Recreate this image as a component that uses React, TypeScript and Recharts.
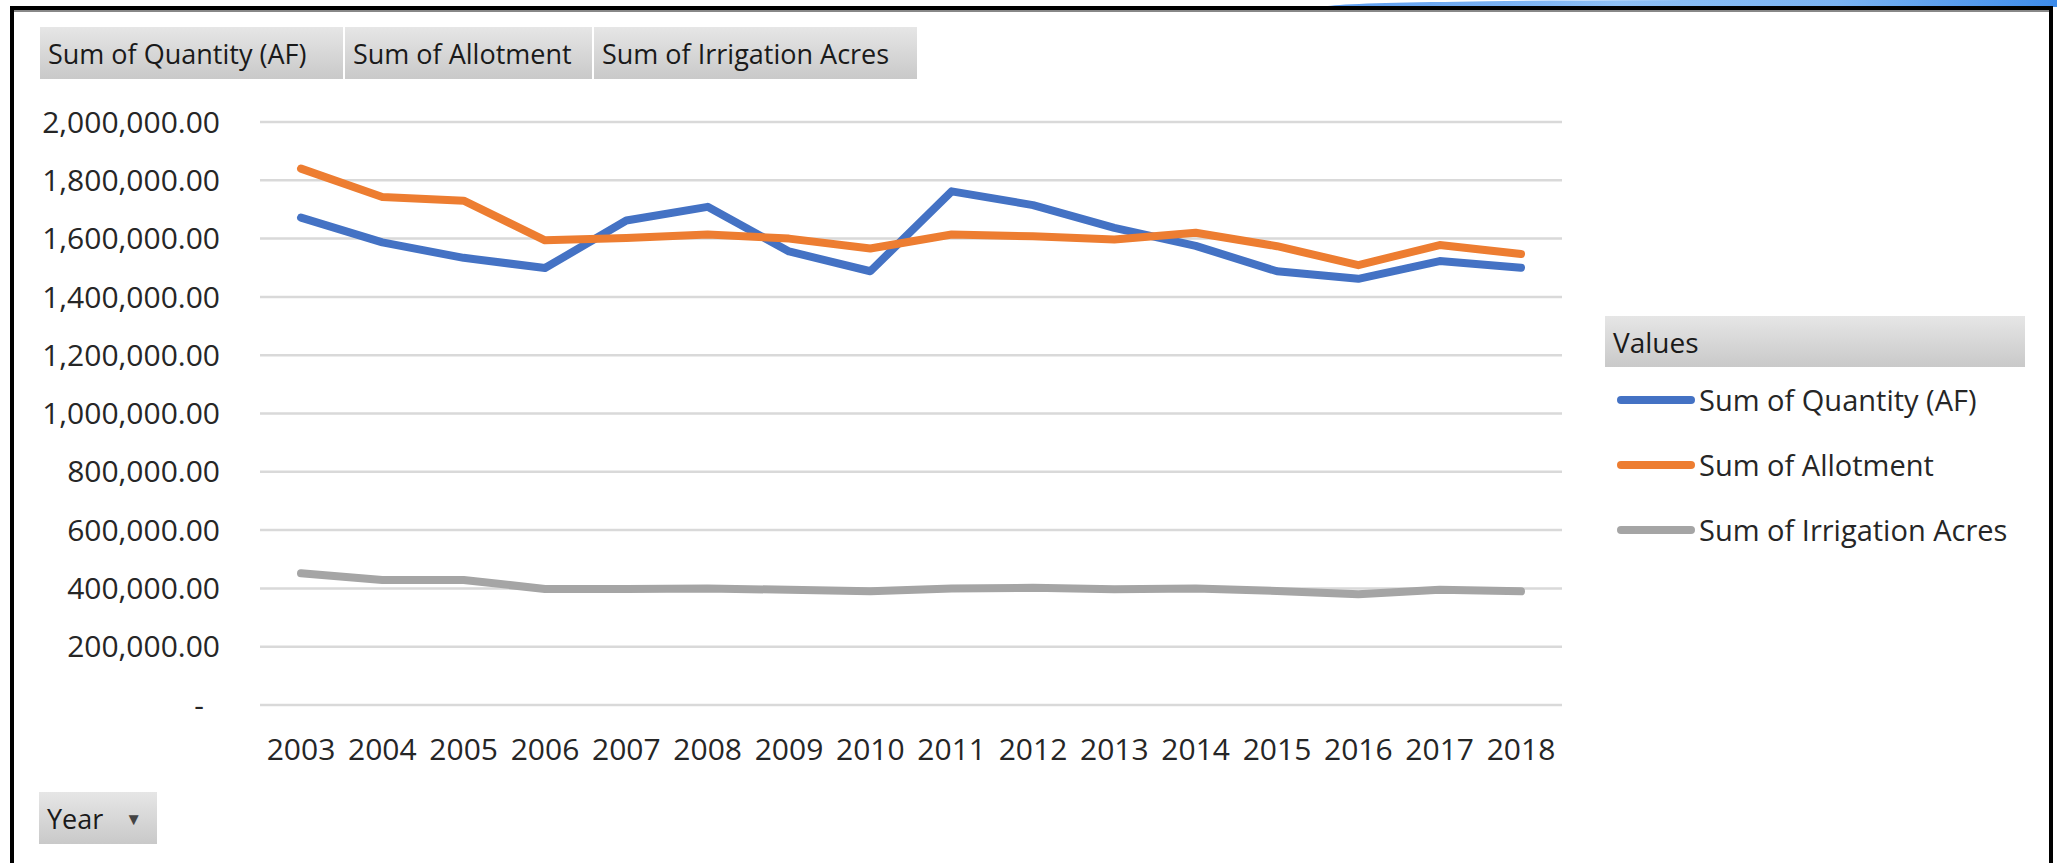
import React from 'react';
import { LineChart, Line, XAxis, YAxis, CartesianGrid, Legend } from 'recharts';

const years = ['2003', '2004', '2005', '2006', '2007', '2008', '2009', '2010', '2011', '2012', '2013', '2014', '2015', '2016', '2017', '2018'];
const quantity = [1672000, 1587000, 1534000, 1499000, 1662000, 1709000, 1556000, 1488000, 1762000, 1715000, 1637000, 1575000, 1488000, 1462000, 1523000, 1500000];
const allotment = [1840000, 1743000, 1730000, 1594000, 1602000, 1614000, 1600000, 1566000, 1614000, 1608000, 1597000, 1620000, 1574000, 1509000, 1578000, 1547000];
const irrigation = [452000, 429000, 429000, 398000, 398000, 400000, 395000, 390000, 400000, 402000, 397000, 400000, 391000, 380000, 395000, 390000];
const yTicks = [0, 200000, 400000, 600000, 800000, 1000000, 1200000, 1400000, 1600000, 1800000, 2000000];

const seriesNames = ['Sum of Quantity (AF)', 'Sum of Allotment', 'Sum of Irrigation Acres'];
const seriesColors = ['#4472C4', '#ED7D31', '#A5A5A5'];

const data = years.map((year, i) => ({
  year,
  quantity: quantity[i],
  allotment: allotment[i],
  irrigation: irrigation[i],
}));

const FONT = '"Open Sans", sans-serif';
const TEXT = '#262626';

const fmt = (v: number) =>
  v === 0 ? '-' : v.toLocaleString('en-US', { minimumFractionDigits: 2, maximumFractionDigits: 2 });

const YTick = (props: any) => {
  const { x, y, payload } = props;
  const shift = payload.value === 0 ? 16 : 0;
  return (
    <text x={x - shift} y={y} dy="0.355em" textAnchor="end" fill={TEXT} fontSize={30} fontFamily={FONT}>
      {fmt(payload.value)}
    </text>
  );
};

const buttonStyle: React.CSSProperties = {
  position: 'absolute',
  background: 'linear-gradient(#e6e6e6, #c9c9c9)',
  fontFamily: FONT,
  fontSize: 27,
  color: '#1a1a1a',
  boxSizing: 'border-box',
  paddingLeft: 8,
  display: 'flex',
  alignItems: 'center',
  whiteSpace: 'nowrap',
};

const fieldButtons = [
  { label: 'Sum of Quantity (AF)', left: 40, width: 303 },
  { label: 'Sum of Allotment', left: 345, width: 247 },
  { label: 'Sum of Irrigation Acres', left: 594, width: 323 },
];

// excel-style legend: grey "Values" header then the three series
const LegendBox = (props: any) => {
  const items = [...(props.payload || [])].sort(
    (a: any, b: any) => seriesNames.indexOf(a.value) - seriesNames.indexOf(b.value)
  );
  return (
    <div style={{ fontFamily: FONT, color: TEXT }}>
      <div style={{ ...buttonStyle, position: 'relative', width: 420, height: 51, fontSize: 28 }}>Values</div>
      {items.map((item: any, i: number) => (
        <div key={i} style={{ display: 'flex', alignItems: 'center', height: 65 }}>
          <div style={{ width: 78, height: 8, borderRadius: 4, background: item.color, marginLeft: 12 }} />
          <span style={{ fontSize: 29, marginLeft: 4, whiteSpace: 'nowrap' }}>{item.value}</span>
        </div>
      ))}
    </div>
  );
};

export default function App() {
  return (
    <div style={{ position: 'absolute', left: 0, top: 0, width: 2057, height: 863, background: '#fff', overflow: 'hidden' }}>
      <div
        style={{
          position: 'absolute',
          left: 1324,
          top: 0,
          width: 733,
          height: 7,
          background: 'linear-gradient(90deg, #5b9cf0, #8fc0f5 40%, #7ab3f2 70%, #3d8bea)',
          borderTopLeftRadius: '50% 100%',
        }}
      />
      <div
        style={{
          position: 'absolute',
          left: 10,
          top: 6,
          width: 2043,
          height: 900,
          border: '4px solid #000',
          boxSizing: 'border-box',
          boxShadow: 'inset 0 2px 0 #888',
        }}
      />
      <div style={{ position: 'absolute', left: 0, top: 0 }}>
        <LineChart width={2057} height={863} data={data} margin={{ top: 122, right: 495, bottom: 98, left: 0 }}>
          <CartesianGrid vertical={false} stroke="#d9d9d9" strokeWidth={2.5} />
          <XAxis
            dataKey="year"
            axisLine={false}
            tickLine={false}
            height={60}
            tickMargin={28}
            padding={{ left: 41, right: 41 }}
            tick={{ fill: TEXT, fontSize: 30, fontFamily: FONT }}
            interval={0}
          />
          <YAxis
            domain={[0, 2000000]}
            ticks={yTicks}
            width={260}
            axisLine={false}
            tickLine={false}
            tickMargin={34}
            tick={<YTick />}
            interval={0}
          />
          <Legend
            layout="vertical"
            verticalAlign="middle"
            align="center"
            wrapperStyle={{ left: 1605, top: 316, width: 440, height: 260 }}
            content={<LegendBox />}
          />
          <Line type="linear" dataKey="quantity" name={seriesNames[0]} stroke={seriesColors[0]} strokeWidth={8} dot={false} strokeLinecap="round" strokeLinejoin="round" isAnimationActive={false} />
          <Line type="linear" dataKey="allotment" name={seriesNames[1]} stroke={seriesColors[1]} strokeWidth={8} dot={false} strokeLinecap="round" strokeLinejoin="round" isAnimationActive={false} />
          <Line type="linear" dataKey="irrigation" name={seriesNames[2]} stroke={seriesColors[2]} strokeWidth={8} dot={false} strokeLinecap="round" strokeLinejoin="round" isAnimationActive={false} />
        </LineChart>
      </div>
      {fieldButtons.map((b) => (
        <div key={b.label} style={{ ...buttonStyle, left: b.left, top: 27, width: b.width, height: 52 }}>
          {b.label}
        </div>
      ))}
      <div style={{ ...buttonStyle, left: 39, top: 792, width: 118, height: 52 }}>
        Year
        <span style={{ fontSize: 17, marginLeft: 22, color: '#444' }}>▼</span>
      </div>
    </div>
  );
}
